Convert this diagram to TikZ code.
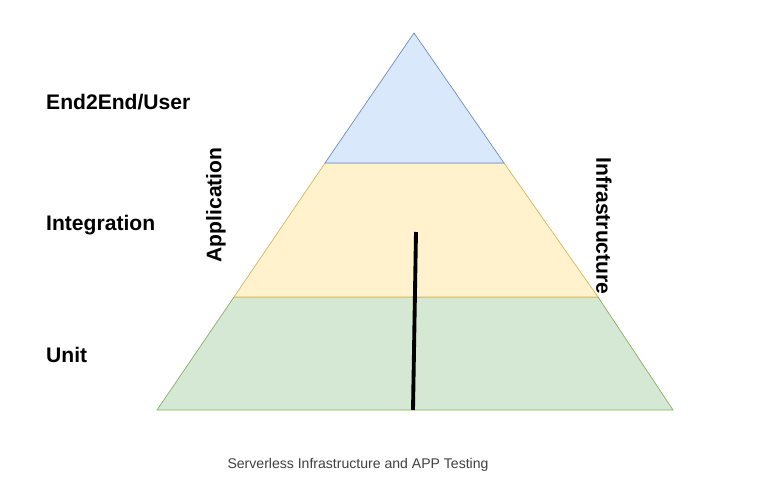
\documentclass[tikz,border=0pt]{standalone}
\usepackage{fontspec}
\setmainfont{Liberation Sans}
\definecolor{topfill}{HTML}{DAE8FC}
\definecolor{topline}{HTML}{6C8EBF}
\definecolor{midfill}{HTML}{FFF2CC}
\definecolor{midline}{HTML}{D6B656}
\definecolor{lowfill}{HTML}{D5E8D4}
\definecolor{lowline}{HTML}{82B366}
\tikzstyle{layer} = [font=\bfseries\fontsize{12}{14}\selectfont,anchor=west]
\tikzstyle{side} = [font=\bfseries\fontsize{12}{14}\selectfont]

\begin{document}
\begin{tikzpicture}[x=0.02cm,y=-0.02cm]

\useasboundingbox (0,0) rectangle (777,494);

\coordinate (apex) at (414,33);
\coordinate (tl) at (325,163);
\coordinate (tr) at (504,163);
\coordinate (ml) at (234,297);
\coordinate (mr) at (598,297);
\coordinate (bl) at (157,410);
\coordinate (br) at (673,410);

\draw[fill=lowfill,draw=lowline] (ml) -- (mr) -- (br) -- (bl) -- cycle;
\draw[fill=midfill,draw=midline] (tl) -- (tr) -- (mr) -- (ml) -- cycle;
\draw[fill=topfill,draw=topline] (apex) -- (tr) -- (tl) -- cycle;

\coordinate (s1) at (416,232);
\coordinate (s2) at (413,410);
\draw[line width=2.2pt] (s1) -- (s2);

\node[layer] (user) at (40,102) {End2End/User};
\node[layer] (integ) at (40,225) {Integration};
\node[layer] (unit) at (40,355) {Unit};
\node[side,rotate=90] (app) at (216,205) {Application};
\node[side,rotate=-90] (infra) at (604,226) {Infrastructure};

\node[font=\fontsize{8}{10}\selectfont,text=black!75] (caption) at (358,465) {Serverless Infrastructure and APP Testing};

\end{tikzpicture}
\end{document}
